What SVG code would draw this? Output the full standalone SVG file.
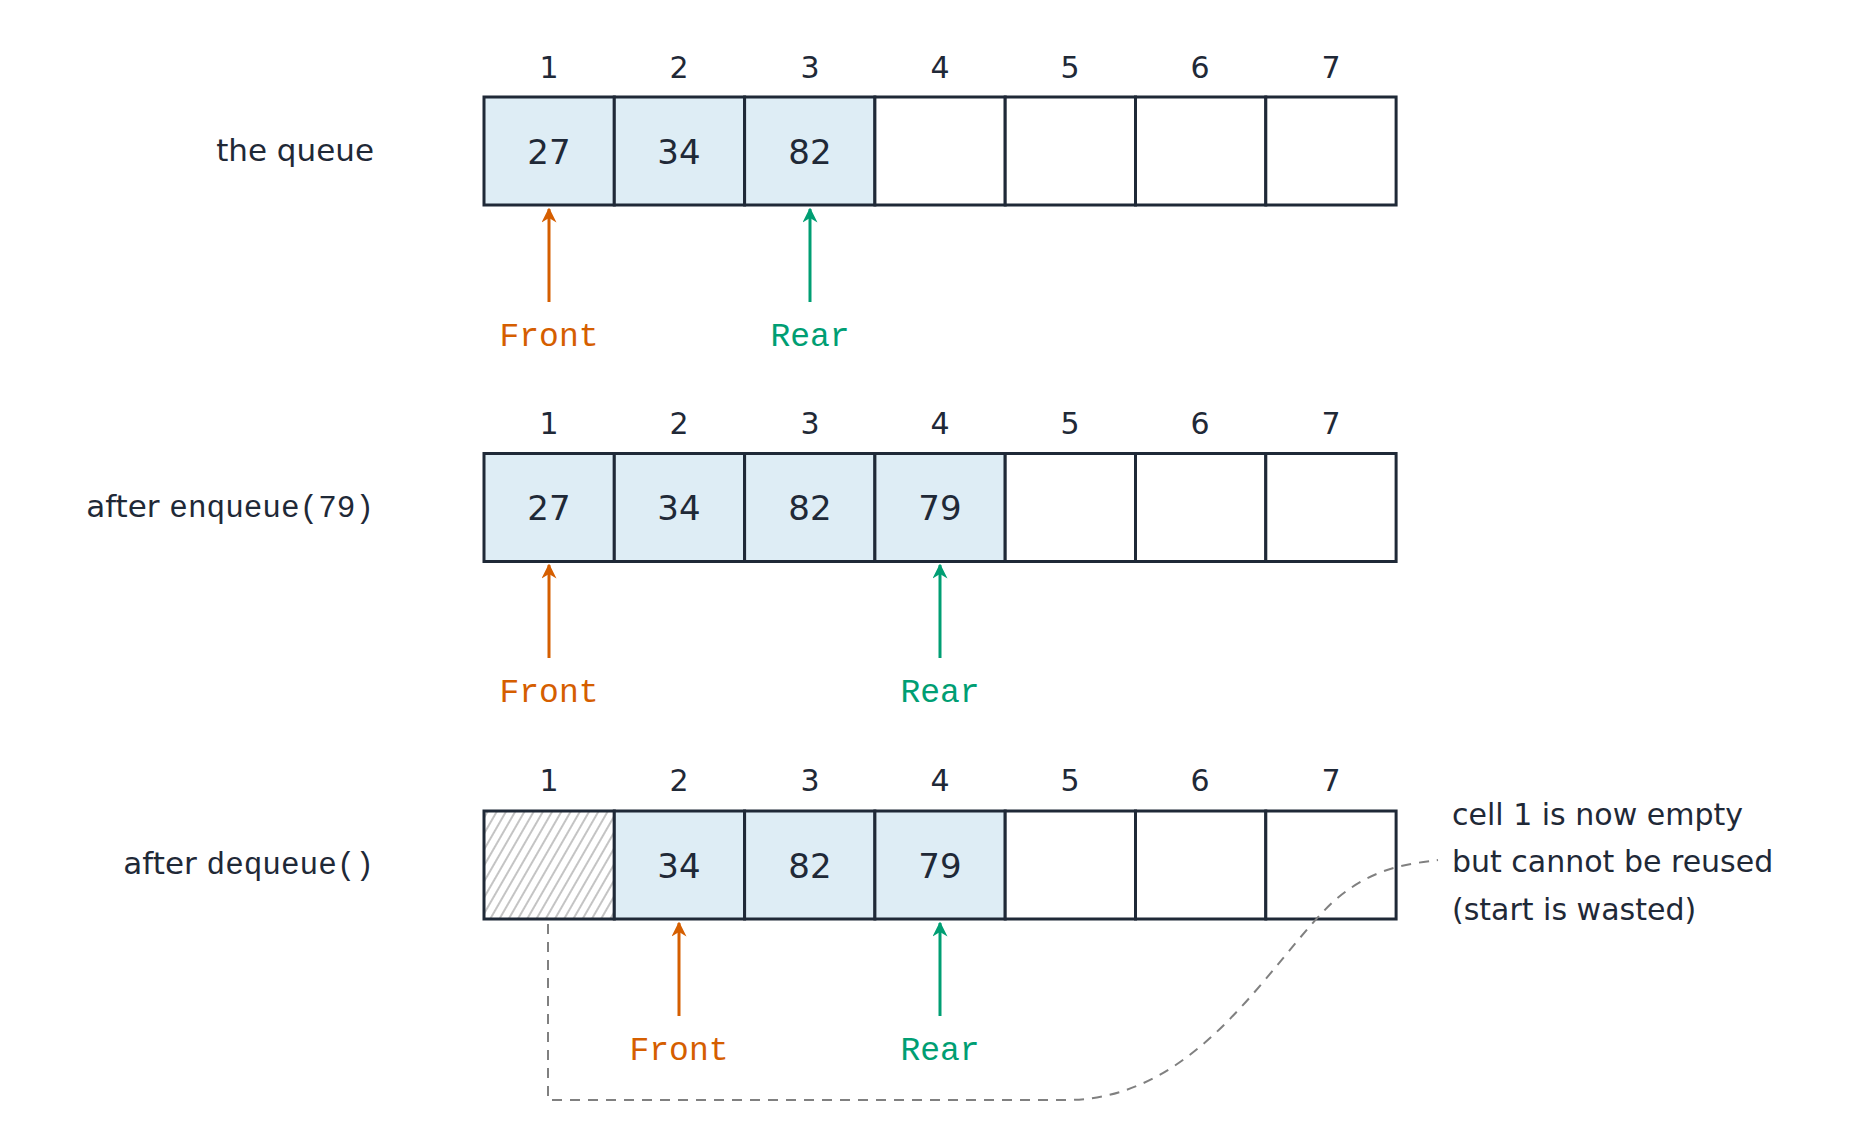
<svg xmlns="http://www.w3.org/2000/svg" width="1858" height="1142" viewBox="0 0 1858 1142">
<style>
.cell{fill:#fff;stroke:#1f2937;stroke-width:3}
.full{fill:#deedf5}
.num{font-family:"DejaVu Sans",sans-serif;font-size:34px;fill:#1f2937;text-anchor:middle}
.idx{font-family:"DejaVu Sans",sans-serif;font-size:30px;fill:#1f2937;text-anchor:middle}
.lbl{font-family:"DejaVu Sans",sans-serif;font-size:31px;fill:#1f2937;text-anchor:end}
.mono{font-family:"Liberation Mono",monospace}
.ptr{font-family:"Liberation Mono",monospace;font-size:33px;text-anchor:middle}
.note{font-family:"DejaVu Sans",sans-serif;font-size:30px;fill:#1f2937}
</style>
<defs>
<marker id="ao" viewBox="0 0 10 10" refX="9" refY="5" markerWidth="5" markerHeight="5" orient="auto"><path d="M0,0 L10,5 L0,10 L3,5 Z" fill="#d55e00"/></marker>
<marker id="ag" viewBox="0 0 10 10" refX="9" refY="5" markerWidth="5" markerHeight="5" orient="auto"><path d="M0,0 L10,5 L0,10 L3,5 Z" fill="#009e73"/></marker>
<pattern id="hatch" width="8" height="8" patternUnits="userSpaceOnUse" patternTransform="rotate(30)"><line x1="4" y1="0" x2="4" y2="8" stroke="#b0b0b0" stroke-width="1.5"/></pattern>
</defs>

<g id="row1">
<text class="lbl" x="374" y="161">the queue</text>
<g class="idx"><text x="549" y="78">1</text><text x="679" y="78">2</text><text x="810" y="78">3</text><text x="940" y="78">4</text><text x="1070" y="78">5</text><text x="1200" y="78">6</text><text x="1331" y="78">7</text></g>
<rect class="cell full" x="484" y="97" width="130.3" height="108"/>
<rect class="cell full" x="614.3" y="97" width="130.3" height="108"/>
<rect class="cell full" x="744.6" y="97" width="130.3" height="108"/>
<rect class="cell" x="874.9" y="97" width="130.3" height="108"/>
<rect class="cell" x="1005.2" y="97" width="130.3" height="108"/>
<rect class="cell" x="1135.5" y="97" width="130.3" height="108"/>
<rect class="cell" x="1265.8" y="97" width="130.3" height="108"/>
<text class="num" x="549" y="164">27</text><text class="num" x="679" y="164">34</text><text class="num" x="810" y="164">82</text>
<text class="ptr" x="549" y="346" fill="#d55e00">Front</text>
<text class="ptr" x="810" y="346" fill="#009e73">Rear</text>
</g>

<g id="row2">
<text class="lbl" x="374" y="517">after <tspan class="mono">enqueue(79)</tspan></text>
<g class="idx"><text x="549" y="434">1</text><text x="679" y="434">2</text><text x="810" y="434">3</text><text x="940" y="434">4</text><text x="1070" y="434">5</text><text x="1200" y="434">6</text><text x="1331" y="434">7</text></g>
<rect class="cell full" x="484" y="453.5" width="130.3" height="108"/>
<rect class="cell full" x="614.3" y="453.5" width="130.3" height="108"/>
<rect class="cell full" x="744.6" y="453.5" width="130.3" height="108"/>
<rect class="cell full" x="874.9" y="453.5" width="130.3" height="108"/>
<rect class="cell" x="1005.2" y="453.5" width="130.3" height="108"/>
<rect class="cell" x="1135.5" y="453.5" width="130.3" height="108"/>
<rect class="cell" x="1265.8" y="453.5" width="130.3" height="108"/>
<text class="num" x="549" y="520">27</text><text class="num" x="679" y="520">34</text><text class="num" x="810" y="520">82</text><text class="num" x="940" y="520">79</text>
<text class="ptr" x="549" y="702" fill="#d55e00">Front</text>
<text class="ptr" x="940" y="702" fill="#009e73">Rear</text>
</g>

<g id="row3">
<text class="lbl" x="374" y="874">after <tspan class="mono">dequeue()</tspan></text>
<g class="idx"><text x="549" y="791">1</text><text x="679" y="791">2</text><text x="810" y="791">3</text><text x="940" y="791">4</text><text x="1070" y="791">5</text><text x="1200" y="791">6</text><text x="1331" y="791">7</text></g>
<rect class="cell" x="484" y="811" width="130.3" height="108" fill="url(#hatch)" style="fill:url(#hatch)"/>
<rect class="cell full" x="614.3" y="811" width="130.3" height="108"/>
<rect class="cell full" x="744.6" y="811" width="130.3" height="108"/>
<rect class="cell full" x="874.9" y="811" width="130.3" height="108"/>
<rect class="cell" x="1005.2" y="811" width="130.3" height="108"/>
<rect class="cell" x="1135.5" y="811" width="130.3" height="108"/>
<rect class="cell" x="1265.8" y="811" width="130.3" height="108"/>
<text class="num" x="679" y="878">34</text><text class="num" x="810" y="878">82</text><text class="num" x="940" y="878">79</text>
<text class="ptr" x="679" y="1060" fill="#d55e00">Front</text>
<text class="ptr" x="940" y="1060" fill="#009e73">Rear</text>
</g>

<g id="note">
<text class="note" x="1452" y="825">cell 1 is now empty</text>
<text class="note" x="1452" y="872">but cannot be reused</text>
<text class="note" x="1452" y="920">(start is wasted)</text>
</g>

<g id="connectors" stroke-width="3" fill="none">
<line x1="549" y1="302" x2="549" y2="209" stroke="#d55e00" marker-end="url(#ao)"/>
<line x1="810" y1="302" x2="810" y2="209" stroke="#009e73" marker-end="url(#ag)"/>
<line x1="549" y1="658" x2="549" y2="565" stroke="#d55e00" marker-end="url(#ao)"/>
<line x1="940" y1="658" x2="940" y2="565" stroke="#009e73" marker-end="url(#ag)"/>
<line x1="679" y1="1016" x2="679" y2="923" stroke="#d55e00" marker-end="url(#ao)"/>
<line x1="940" y1="1016" x2="940" y2="923" stroke="#009e73" marker-end="url(#ag)"/>
<path d="M548,924 V1100 H1066 C1200,1100 1270,960 1335,900 C1375,866 1410,864 1438,860" stroke="#808080" stroke-width="2" stroke-dasharray="10,8"/>
</g>
</svg>
